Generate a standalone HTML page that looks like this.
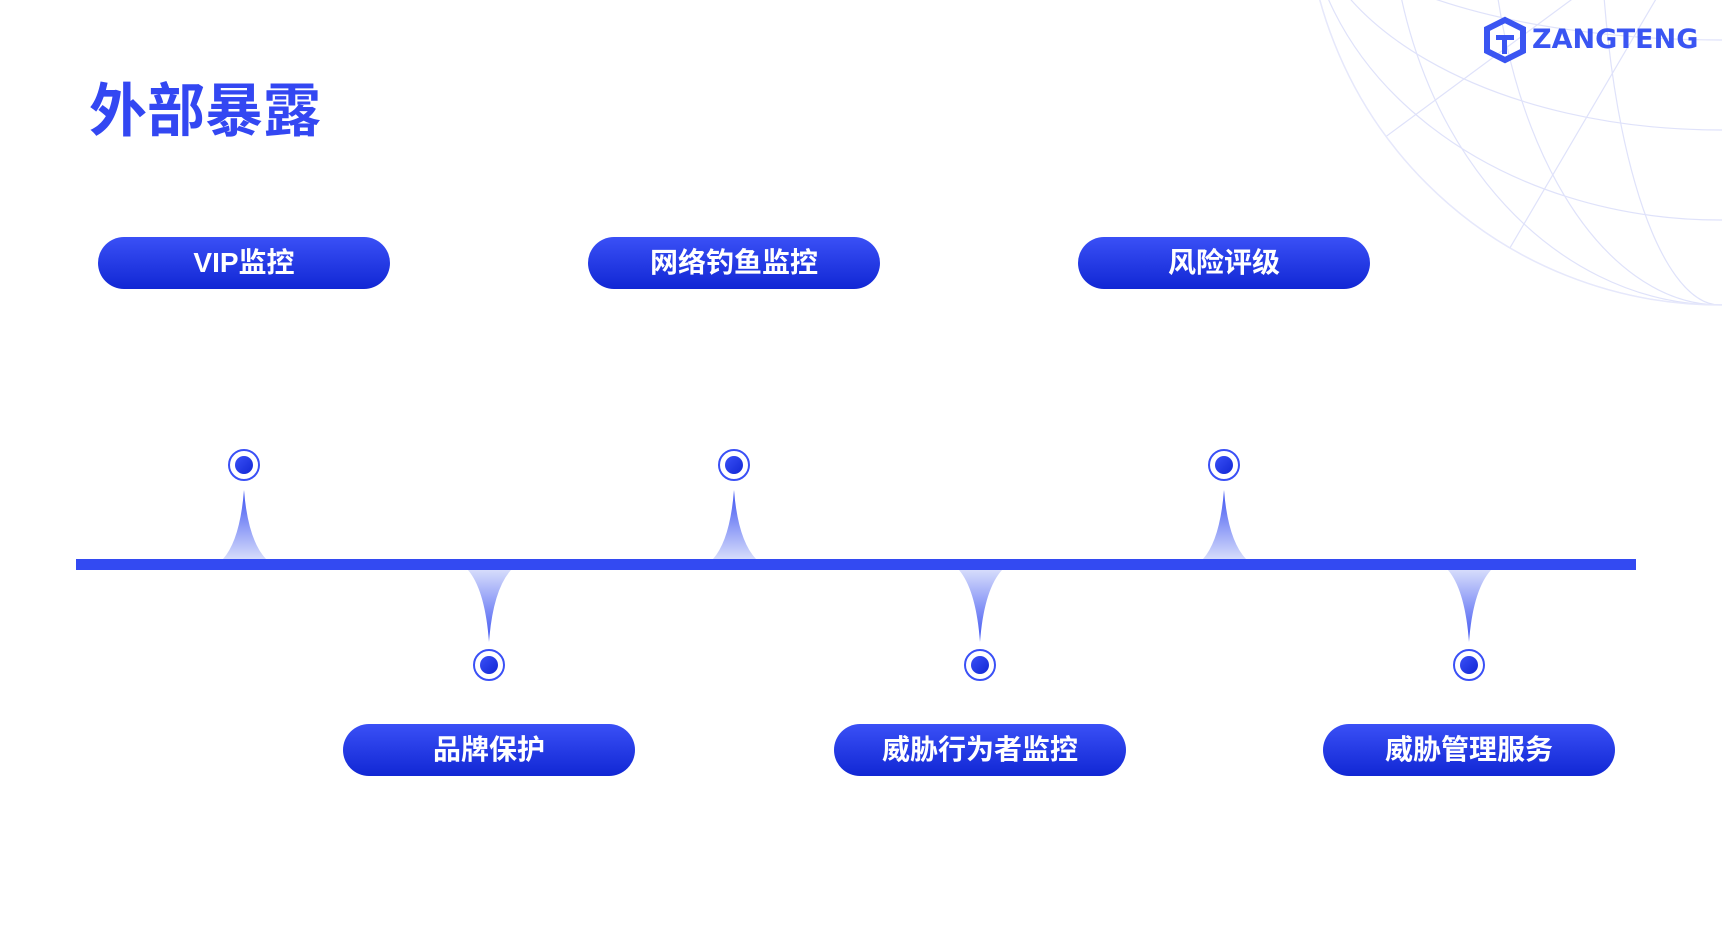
<!DOCTYPE html>
<html><head><meta charset="utf-8"><style>
body{margin:0;width:1722px;height:925px;background:#fff;position:relative;overflow:hidden;font-family:"Liberation Sans","Noto Sans CJK SC",sans-serif}
.t{position:absolute;left:89px;top:74px;font-size:58px;font-weight:bold;color:#3347f2;letter-spacing:0px;line-height:76px}
.p{position:absolute;width:292px;height:52px;border-radius:26px;background:linear-gradient(#3a50f6,#1127d4);color:#fff;font-size:28px;font-weight:bold;text-align:center;line-height:52px}
.logo{position:absolute;left:1532px;top:24px;font-size:27px;font-weight:bold;color:#3a55f2;letter-spacing:0px;font-family:"DejaVu Sans",sans-serif}
</style></head><body>
<svg width="1722" height="925" style="position:absolute;left:0;top:0">
<defs>
<linearGradient id="up" x1="0" y1="0" x2="0" y2="1"><stop offset="0" stop-color="#3c52f2"/><stop offset="1" stop-color="#d6dcfb"/></linearGradient>
<linearGradient id="dn" x1="0" y1="1" x2="0" y2="0"><stop offset="0" stop-color="#3c52f2"/><stop offset="1" stop-color="#d6dcfb"/></linearGradient>
<linearGradient id="dot" x1="0" y1="0" x2="1" y2="1"><stop offset="0" stop-color="#3a50f6"/><stop offset="1" stop-color="#1127d4"/></linearGradient>
<clipPath id="gc"><circle cx="1720" cy="-110" r="415"/></clipPath>
</defs>
<g stroke="#dfe2fa" stroke-width="1.2" fill="none" clip-path="url(#gc)">
<circle cx="1720" cy="-110" r="415"/>
<ellipse cx="1720" cy="-110" rx="330" ry="415"/>
<ellipse cx="1720" cy="-110" rx="230" ry="415"/>
<ellipse cx="1720" cy="-110" rx="120" ry="415"/>
<ellipse cx="1720" cy="-110" rx="415" ry="330"/>
<ellipse cx="1720" cy="-110" rx="415" ry="240"/>
<ellipse cx="1720" cy="-110" rx="415" ry="150"/>
<ellipse cx="1720" cy="-110" rx="415" ry="60"/>
<line x1="1720" y1="-110" x2="1300" y2="200"/>
<line x1="1720" y1="-110" x2="1450" y2="350"/>
</g>
<circle cx="1720" cy="-110" r="415" stroke="#e6e8fb" fill="none" stroke-width="1.5"/>
<g fill="#3a55f2" transform="translate(1487,20)">
<path d="M18 0 L36 9 L36 31 L18 40 L0 31 L0 9Z" fill="none" stroke="#3a55f2" stroke-width="6"/>
<rect x="9" y="15" width="18" height="5"/><rect x="15" y="20" width="5" height="14"/>
</g>
<rect x="76" y="559" width="1560" height="11" fill="#334af2"/>
<path d="M244 490 Q248 540 266 559 L223 559 Q240 540 244 490Z" fill="url(#up)"/>
<path d="M734 490 Q738 540 756 559 L713 559 Q730 540 734 490Z" fill="url(#up)"/>
<path d="M1224 490 Q1228 540 1246 559 L1203 559 Q1220 540 1224 490Z" fill="url(#up)"/>
<path d="M489 642 Q493 590 511 570 L468 570 Q485 590 489 642Z" fill="url(#dn)"/>
<path d="M980 642 Q984 590 1002 570 L959 570 Q976 590 980 642Z" fill="url(#dn)"/>
<path d="M1469 642 Q1473 590 1491 570 L1448 570 Q1465 590 1469 642Z" fill="url(#dn)"/>
<g stroke="#3a50f6" stroke-width="2" fill="#fff">
<circle cx="244" cy="465" r="15"/><circle cx="734" cy="465" r="15"/><circle cx="1224" cy="465" r="15"/>
<circle cx="489" cy="665" r="15"/><circle cx="980" cy="665" r="15"/><circle cx="1469" cy="665" r="15"/>
</g>
<g fill="url(#dot)">
<circle cx="244" cy="465" r="9"/><circle cx="734" cy="465" r="9"/><circle cx="1224" cy="465" r="9"/>
<circle cx="489" cy="665" r="9"/><circle cx="980" cy="665" r="9"/><circle cx="1469" cy="665" r="9"/>
</g>
</svg>
<div class="logo">ZANGTENG</div>
<div class="t">外部暴露</div>
<div class="p" style="left:98px;top:237px">VIP监控</div>
<div class="p" style="left:588px;top:237px">网络钓鱼监控</div>
<div class="p" style="left:1078px;top:237px">风险评级</div>
<div class="p" style="left:343px;top:724px">品牌保护</div>
<div class="p" style="left:834px;top:724px">威胁行为者监控</div>
<div class="p" style="left:1323px;top:724px">威胁管理服务</div>
</body></html>
